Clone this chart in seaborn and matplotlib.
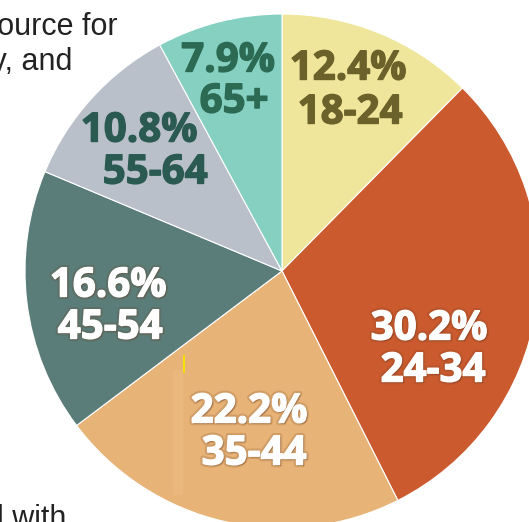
import matplotlib
matplotlib.use("Agg")
import matplotlib.pyplot as plt
import matplotlib.patheffects as pe
import seaborn as sns

# -----------------------------
# Data
# -----------------------------
age_groups = ["18-24", "24-34", "35-44", "45-54", "55-64", "65+"]
shares = [12.4, 30.2, 22.2, 16.6, 10.8, 7.9]
slice_colors = ["#F0E69B", "#CB5A2F", "#E7B377", "#5B7D79", "#B9C0CA", "#86D0C1"]
label_colors = ["#6B612B", "white", "white", "white", "#2B5A52", "#2C6A54"]

sns.set_theme(style="white")
plt.rcParams["font.family"] = ["Open Sans", "DejaVu Sans"]

fig = plt.figure(figsize=(5.29, 5.22), dpi=100)
ax = fig.add_axes([0, 0, 1, 1])

# pie drawn in pixel coordinates; y axis is flipped, so go counterclockwise from -90
ax.pie(shares, colors=slice_colors, startangle=-90, counterclock=True,
       center=(282, 271), radius=257,
       wedgeprops=dict(edgecolor="white", linewidth=0.8))

ax.set_xlim(0, 529)
ax.set_ylim(522, 0)
ax.set_aspect("auto")
ax.axis("off")

# label centres (pixels): percentage line, age line
pct_pos = [(348, 69), (429, 329), (249, 412), (108, 286), (139, 131), (228, 61)]
grp_pos = [(350, 113), (433, 371), (254, 454), (110, 328), (155, 173), (234, 102)]

for grp, val, col, p1, p2 in zip(age_groups, shares, label_colors, pct_pos, grp_pos):
    if col == "white":
        effects = [pe.withSimplePatchShadow(offset=(1, -1), shadow_rgbFace="#5a3018", alpha=0.35),
                   pe.withStroke(linewidth=4, foreground="#6a3a1a", alpha=0.18),
                   pe.withStroke(linewidth=1, foreground=col)]
    else:
        effects = [pe.withStroke(linewidth=1, foreground=col)]
    for txt, (x, y) in ((f"{val:.1f}%", p1), (grp, p2)):
        ax.text(x, y, txt, ha="center", va="center", fontsize=29, fontweight="bold",
                color=col, path_effects=effects)

# small artefacts in the source image
ax.plot([184, 184], [356, 372], color="#F2E200", lw=1.5)
ax.add_patch(plt.Rectangle((173, 370), 10, 125, color="#EDBC80", alpha=0.6, lw=0))

# cropped text from surrounding page
page_font = ["Liberation Sans", "DejaVu Sans"]
ax.text(118, 35, "source for", ha="right", va="baseline", fontsize=22, color="#222222",
        family=page_font)
ax.text(72, 70, "ty, and", ha="right", va="baseline", fontsize=22, color="#222222",
        family=page_font)
ax.text(66, 527, "ed with", ha="right", va="baseline", fontsize=22, color="#222222",
        family=page_font)

fig.savefig("out.png", dpi=100)
